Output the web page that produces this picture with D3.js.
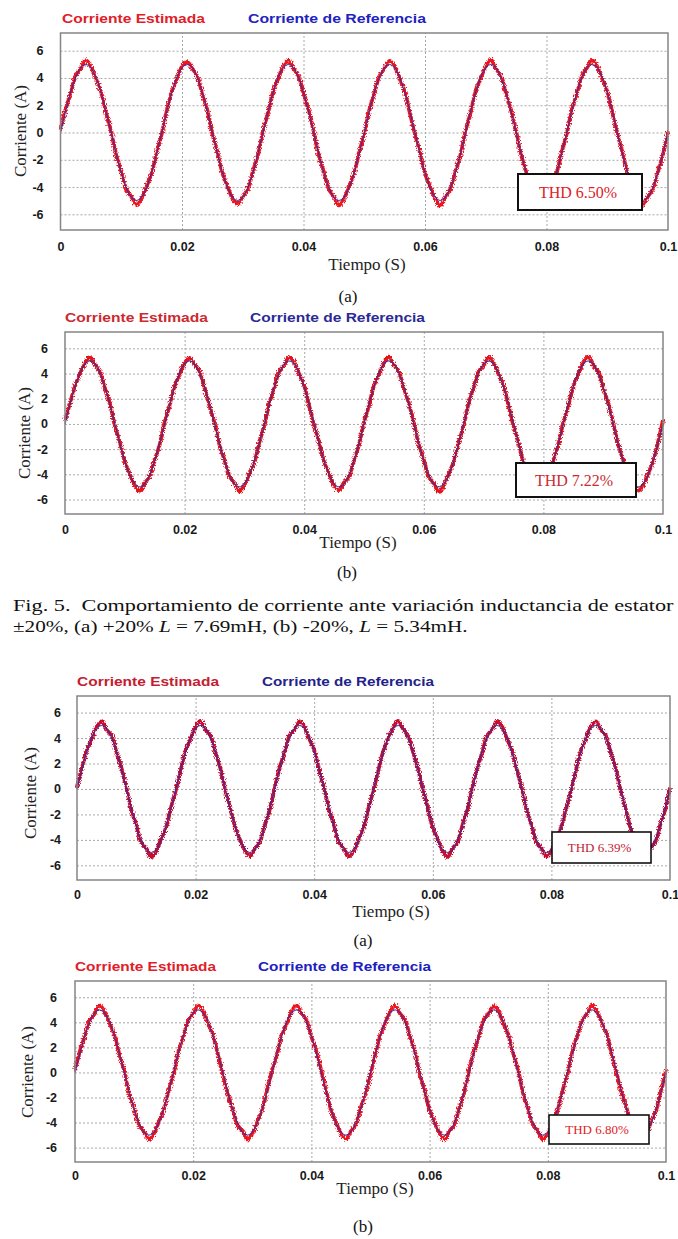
<!DOCTYPE html>
<html>
<head>
<meta charset="utf-8">
<script src="https://cdn.jsdelivr.net/npm/d3@7/dist/d3.min.js"></script>
<style>
  body { margin: 0; background: #fff; }
  svg { display: block; }
</style>
</head>
<body>
<svg id="fig" width="678" height="1239"></svg>
<script>
// ---- data ----
const xTickValues = [0, 0.02, 0.04, 0.06, 0.08, 0.1];
const xTickLabels = ["0", "0.02", "0.04", "0.06", "0.08", "0.1"];
const yTickValues = [6, 4, 2, 0, -2, -4, -6];
const yTickLabels = ["6", "4", "2", "0", "-2", "-4", "-6"];
const legendLabels = ["Corriente Estimada", "Corriente de Referencia"];
const thdLabels = ["THD 6.50%", "THD 7.22%", "THD 6.39%", "THD 6.80%"];
const panelTags = ["(a)", "(b)", "(a)", "(b)"];
const xLabel = "Tiempo (S)";
const yLabel = "Corriente (A)";

// samples every 0.1/120 s from 0 to 0.1 s
const sampleStep = 0.1 / 120;

// reference current (same in all four panels)
const refCurrent = [
  0, 1.55, 2.94, 4.05, 4.76, 5, 4.76, 4.05, 2.94, 1.55, 0, -1.55, -2.94, -4.05, -4.76, -5, -4.76, -4.05, -2.94, -1.55,
  0, 1.55, 2.94, 4.05, 4.76, 5, 4.76, 4.05, 2.94, 1.55, 0, -1.55, -2.94, -4.05, -4.76, -5, -4.76, -4.05, -2.94, -1.55,
  0, 1.55, 2.94, 4.05, 4.76, 5, 4.76, 4.05, 2.94, 1.55, 0, -1.55, -2.94, -4.05, -4.76, -5, -4.76, -4.05, -2.94, -1.55,
  0, 1.55, 2.94, 4.05, 4.76, 5, 4.76, 4.05, 2.94, 1.55, 0, -1.55, -2.94, -4.05, -4.76, -5, -4.76, -4.05, -2.94, -1.55,
  0, 1.55, 2.94, 4.05, 4.76, 5, 4.76, 4.05, 2.94, 1.55, 0, -1.55, -2.94, -4.05, -4.76, -5, -4.76, -4.05, -2.94, -1.55,
  0, 1.55, 2.94, 4.05, 4.76, 5, 4.76, 4.05, 2.94, 1.55, 0, -1.55, -2.94, -4.05, -4.76, -5, -4.76, -4.05, -2.94, -1.55,
  0
];

// estimated current, one per panel (noisy band)
const estCurrentA = [
  0.2, 1.7, 2.85, 4.2, 4.7, 5.3, 4.85, 3.95, 3.0, 1.45, 0.1, -1.65, -2.85, -4.15, -4.7, -5.3, -4.85, -3.95, -3.0, -1.45,
  -0.1, 1.65, 3.0, 3.95, 4.85, 5.2, 4.7, 4.15, 2.85, 1.65, -0.1, -1.45, -3.0, -3.95, -4.85, -5.25, -4.7, -4.15, -2.85, -1.65,
  0.1, 1.45, 3.0, 3.95, 4.85, 5.3, 4.7, 4.15, 2.9, 1.65, 0.1, -1.65, -2.85, -4.15, -4.7, -5.35, -4.85, -3.95, -3.0, -1.45,
  -0.1, 1.65, 2.9, 4.15, 4.7, 5.25, 4.85, 3.95, 3.0, 1.45, -0.1, -1.45, -3.0, -3.95, -4.85, -5.4, -4.7, -4.15, -2.9, -1.65,
  0.1, 1.45, 3.0, 3.95, 4.85, 5.35, 4.7, 4.15, 2.85, 1.65, 0.1, -1.65, -2.9, -4.15, -4.7, -5.25, -4.85, -3.95, -3.0, -1.45,
  -0.1, 1.65, 2.85, 4.15, 4.75, 5.3, 4.85, 3.95, 3.0, 1.45, -0.1, -1.45, -3.0, -3.95, -4.85, -5.3, -4.7, -4.15, -2.9, -1.65,
  0.1
];
const estCurrentB = [
  0.3, 1.65, 3.0, 3.95, 4.85, 5.3, 4.7, 4.15, 2.85, 1.65, -0.15, -1.45, -3.0, -3.95, -4.9, -5.3, -4.7, -4.15, -2.85, -1.65,
  0.15, 1.45, 3.0, 3.95, 4.85, 5.25, 4.7, 4.2, 2.85, 1.45, 0.15, -1.65, -2.85, -4.15, -4.7, -5.35, -4.85, -3.95, -3.05, -1.45,
  -0.15, 1.65, 2.85, 4.2, 4.65, 5.3, 4.9, 3.95, 3.05, 1.45, -0.15, -1.45, -3.0, -3.95, -4.9, -5.25, -4.65, -4.2, -2.85, -1.65,
  0.15, 1.45, 3.05, 3.95, 4.85, 5.35, 4.7, 4.15, 2.85, 1.65, 0.1, -1.65, -2.85, -4.2, -4.7, -5.4, -4.9, -3.95, -3.0, -1.45,
  -0.15, 1.65, 2.85, 4.15, 4.65, 5.3, 4.85, 3.95, 3.05, 1.45, -0.15, -1.45, -3.05, -3.95, -4.85, -5.3, -4.7, -4.2, -2.85, -1.65,
  0.15, 1.45, 3.0, 3.95, 4.9, 5.35, 4.65, 4.15, 2.85, 1.65, 0.1, -1.65, -2.85, -4.2, -4.7, -5.3, -4.9, -3.95, -3.0, -1.45,
  0.3
];
const estCurrentC = [
  0.1, 1.65, 3.05, 3.95, 4.9, 5.3, 4.65, 4.2, 2.85, 1.65, 0.1, -1.65, -2.85, -4.2, -4.65, -5.35, -4.9, -3.95, -3.05, -1.5,
  -0.1, 1.5, 3.05, 3.95, 4.9, 5.35, 4.65, 4.2, 2.85, 1.65, -0.1, -1.5, -3.0, -4.0, -4.85, -5.3, -4.7, -4.15, -2.85, -1.65,
  0.1, 1.65, 2.85, 4.2, 4.65, 5.3, 4.9, 3.95, 3.05, 1.5, 0.1, -1.65, -2.85, -4.2, -4.65, -5.3, -4.9, -3.95, -3.05, -1.5,
  -0.1, 1.5, 3.0, 4.0, 4.85, 5.35, 4.7, 4.15, 2.9, 1.6, -0.1, -1.5, -3.05, -3.95, -4.9, -5.35, -4.65, -4.2, -2.85, -1.65,
  0.1, 1.65, 2.85, 4.2, 4.65, 5.35, 4.9, 3.95, 3.05, 1.5, 0.1, -1.65, -2.85, -4.2, -4.7, -5.3, -4.85, -4.0, -3.0, -1.5,
  -0.1, 1.5, 3.05, 3.95, 4.9, 5.3, 4.65, 4.2, 2.85, 1.65, -0.1, -1.5, -3.05, -3.95, -4.9, -5.35, -4.65, -4.2, -2.85, -1.65,
  0.1
];
const estCurrentD = [
  0.2, 1.7, 2.9, 4.2, 4.7, 5.35, 4.85, 3.95, 3.0, 1.45, 0.15, -1.7, -2.85, -4.2, -4.7, -5.35, -4.9, -3.95, -3.0, -1.45,
  -0.15, 1.7, 2.85, 4.2, 4.7, 5.35, 4.9, 3.9, 3.05, 1.45, -0.15, -1.7, -2.9, -4.2, -4.65, -5.35, -4.9, -3.9, -3.0, -1.4,
  0.15, 1.4, 3.05, 3.9, 4.9, 5.35, 4.7, 4.2, 2.85, 1.7, 0.15, -1.45, -3.0, -3.95, -4.9, -5.3, -4.7, -4.2, -2.85, -1.7,
  -0.15, 1.45, 3.0, 3.9, 4.9, 5.35, 4.7, 4.2, 2.9, 1.7, -0.15, -1.45, -3.05, -3.9, -4.85, -5.35, -4.7, -4.2, -2.85, -1.65,
  0.15, 1.7, 2.85, 4.2, 4.7, 5.3, 4.9, 3.9, 3.0, 1.45, 0.15, -1.7, -2.9, -4.2, -4.7, -5.35, -4.9, -3.95, -3.0, -1.45,
  -0.15, 1.7, 2.9, 4.15, 4.7, 5.35, 4.85, 3.9, 3.05, 1.4, -0.15, -1.65, -2.85, -4.2, -4.7, -5.3, -4.9, -3.9, -3.0, -1.45,
  0.2
];
const estSeries = [estCurrentA, estCurrentB, estCurrentC, estCurrentD];

const captionLine1 = "Fig. 5.  Comportamiento de corriente ante variación inductancia de estator";

// ---- layout of each panel (page pixels) ----
const panels = [
  { left: 60.5, right: 668, top: 33, bottom: 230, legendY: 23, legendX: [62, 248], legendW: [143, 178],
    yLab: [20, 131], xLab: [367, 270], tag: [348, 302], xPad: 12, yPad: 17,
    box: [518, 174, 124, 36], boxFont: 16, boxStroke: 2,
    red: "#ec1820", redText: "#e02028", blueText: "#2222c0" },
  { left: 65, right: 663, top: 332, bottom: 514, legendY: 322, legendX: [65, 250], legendW: [143, 175],
    yLab: [24, 433], xLab: [358, 548], tag: [347, 578], xPad: 11.5, yPad: 17,
    box: [516, 463, 120, 34], boxFont: 16, boxStroke: 2,
    red: "#e0141e", redText: "#cc2a30", blueText: "#2a2a96" },
  { left: 77, right: 670, top: 696, bottom: 880, legendY: 686, legendX: [77, 262], legendW: [142, 172],
    yLab: [30, 793], xLab: [391, 917], tag: [363, 946], xPad: 10.5, yPad: 16,
    box: [552, 832, 99, 31], boxFont: 13, boxStroke: 1.6,
    red: "#c8102e", redText: "#c42030", blueText: "#22228a" },
  { left: 75, right: 666, top: 981, bottom: 1162, legendY: 971, legendX: [75, 258], legendW: [141, 173],
    yLab: [27, 1072], xLab: [375, 1194], tag: [363, 1232], xPad: 9.5, yPad: 18,
    box: [549, 1115, 100, 29], boxFont: 13, boxStroke: 1.6,
    red: "#ec1820", redText: "#e02028", blueText: "#2020c0" }
];

const refColor = "#3a2c9e";
const sans = "'Liberation Sans', Arial, sans-serif";
const serif = "'Liberation Serif', 'Times New Roman', serif";

const svg = d3.select("#fig");
svg.append("rect").attr("width", 678).attr("height", 1239).attr("fill", "#fff");

// ripple look for the estimated current band
const filter = svg.append("defs").append("filter")
  .attr("id", "ripple")
  .attr("x", "-2%").attr("y", "-6%").attr("width", "104%").attr("height", "112%");
filter.append("feTurbulence")
  .attr("type", "fractalNoise").attr("baseFrequency", "0.9 0.6")
  .attr("numOctaves", 2).attr("seed", 7).attr("result", "noise");
filter.append("feDisplacementMap")
  .attr("in", "SourceGraphic").attr("in2", "noise")
  .attr("scale", 5).attr("xChannelSelector", "R").attr("yChannelSelector", "G");

panels.forEach((p, i) => {
  const xScale = d3.scaleLinear().domain([0, 0.1]).range([p.left, p.right]);
  const yScale = d3.scaleLinear().domain([-7.15, 7.3]).range([p.bottom, p.top]);
  const g = svg.append("g");

  // grid
  g.append("g")
    .attr("transform", `translate(0,${p.bottom})`)
    .call(d3.axisBottom(xScale).tickValues(xTickValues.slice(1, -1)).tickSize(-(p.bottom - p.top)).tickFormat(""))
    .call(s => s.select(".domain").remove())
    .call(s => s.selectAll("line").attr("stroke", "#a8a8a8").attr("stroke-dasharray", "2,2"));
  g.append("g")
    .attr("transform", `translate(${p.left},0)`)
    .call(d3.axisLeft(yScale).tickValues(yTickValues).tickSize(-(p.right - p.left)).tickFormat(""))
    .call(s => s.select(".domain").remove())
    .call(s => s.selectAll("line").attr("stroke", "#a8a8a8").attr("stroke-dasharray", "2,2"));

  // curves
  const est = estSeries[i];
  const estLine = d3.line()
    .x((d, k) => xScale(k * sampleStep))
    .y(d => yScale(d))
    .curve(d3.curveCatmullRom);
  const refLine = d3.line()
    .x((d, k) => xScale(k * sampleStep))
    .y(d => yScale(d))
    .curve(d3.curveNatural);

  g.append("path")
    .attr("d", estLine(est))
    .attr("fill", "none")
    .attr("stroke", p.red)
    .attr("stroke-width", 3.8)
    .attr("stroke-linejoin", "round")
    .attr("filter", "url(#ripple)");
  g.append("path")
    .attr("d", refLine(refCurrent))
    .attr("fill", "none")
    .attr("stroke", refColor)
    .attr("stroke-width", 1.3)
    .attr("opacity", 0.8);

  // frame
  g.append("rect")
    .attr("x", p.left).attr("y", p.top)
    .attr("width", p.right - p.left).attr("height", p.bottom - p.top)
    .attr("fill", "none").attr("stroke", "#858585").attr("stroke-width", 1.5);

  // axes labels
  const xAxis = g.append("g")
    .attr("transform", `translate(0,${p.bottom})`)
    .call(d3.axisBottom(xScale).tickValues(xTickValues).tickSize(0).tickPadding(p.xPad)
      .tickFormat((d, k) => xTickLabels[k]));
  xAxis.select(".domain").remove();
  xAxis.selectAll("text").attr("font-family", sans).attr("font-weight", "bold")
    .attr("font-size", "12.5px").attr("fill", "#1a1a1a");

  const yAxis = g.append("g")
    .attr("transform", `translate(${p.left},0)`)
    .call(d3.axisLeft(yScale).tickValues(yTickValues).tickSize(0).tickPadding(p.yPad)
      .tickFormat((d, k) => yTickLabels[k]));
  yAxis.select(".domain").remove();
  yAxis.selectAll("text").attr("font-family", sans).attr("font-weight", "bold")
    .attr("font-size", "12.5px").attr("fill", "#1a1a1a");

  g.append("text")
    .attr("transform", `translate(${p.yLab[0]},${p.yLab[1]}) rotate(-90)`)
    .attr("dy", "0.35em")
    .attr("text-anchor", "middle")
    .attr("font-family", serif).attr("font-size", "17px").attr("fill", "#222")
    .text(yLabel);

  g.append("text")
    .attr("x", p.xLab[0]).attr("y", p.xLab[1])
    .attr("text-anchor", "middle")
    .attr("font-family", serif).attr("font-size", "17px").attr("fill", "#222")
    .text(xLabel);

  g.append("text")
    .attr("x", p.tag[0]).attr("y", p.tag[1])
    .attr("text-anchor", "middle")
    .attr("font-family", serif).attr("font-size", "17px").attr("fill", "#111")
    .text(panelTags[i]);

  // legend
  [p.redText, p.blueText].forEach((c, k) => {
    g.append("text")
      .attr("x", p.legendX[k]).attr("y", p.legendY)
      .attr("font-family", sans).attr("font-weight", "bold").attr("font-size", "13.5px")
      .attr("fill", c)
      .attr("textLength", p.legendW[k]).attr("lengthAdjust", "spacingAndGlyphs")
      .text(legendLabels[k]);
  });

  // THD box
  const [bx, by, bw, bh] = p.box;
  g.append("rect")
    .attr("x", bx).attr("y", by).attr("width", bw).attr("height", bh)
    .attr("fill", "#fff").attr("stroke", "#111").attr("stroke-width", p.boxStroke);
  g.append("text")
    .attr("x", bx + bw / 2 - 2).attr("y", by + bh / 2)
    .attr("dy", "0.35em")
    .attr("text-anchor", "middle")
    .attr("font-family", serif).attr("font-size", p.boxFont + "px")
    .attr("fill", p.redText)
    .text(thdLabels[i]);
});

// caption: the scan is stretched sideways, so widen each line to its measured width
function stretchTo(sel, x, width) {
  const natural = sel.node().getComputedTextLength();
  sel.attr("transform", `translate(${x},0) scale(${width / natural},1) translate(${-x},0)`);
}

const cap1 = svg.append("text")
  .attr("x", 13).attr("y", 611)
  .attr("font-family", serif).attr("font-size", "17.5px").attr("fill", "#111")
  .style("white-space", "pre")
  .text(captionLine1);
stretchTo(cap1, 13, 661);

const cap2 = svg.append("text")
  .attr("x", 13).attr("y", 632.5)
  .attr("font-family", serif).attr("font-size", "17.5px").attr("fill", "#111");
cap2.append("tspan").text("±20%, (a) +20% ");
cap2.append("tspan").attr("font-style", "italic").text("L");
cap2.append("tspan").text(" = 7.69mH, (b) -20%, ");
cap2.append("tspan").attr("font-style", "italic").text("L");
cap2.append("tspan").text(" = 5.34mH.");
stretchTo(cap2, 13, 455);
</script>
</body>
</html>
